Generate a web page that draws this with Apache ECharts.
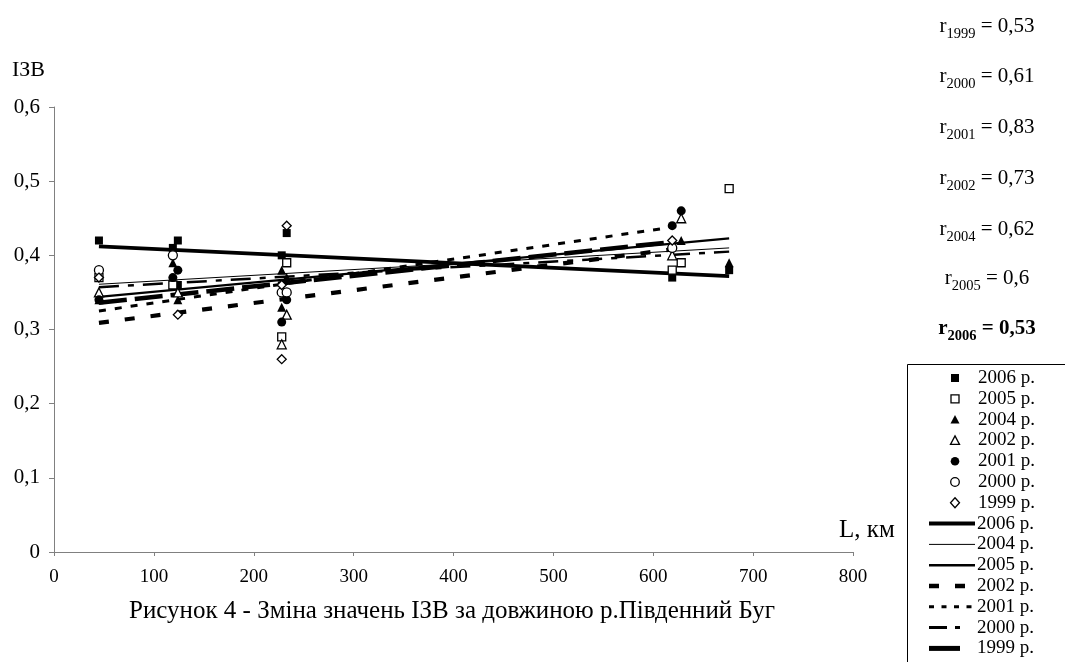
<!DOCTYPE html>
<html><head><meta charset="utf-8">
<script src="https://cdn.jsdelivr.net/npm/echarts@6/dist/echarts.min.js"></script>
<style>html,body{margin:0;padding:0;background:#fff}#c{width:1065px;height:662px}</style>
</head><body><div id="c"></div>
<script>
// ---- data ----
const pts2006 = [[45,0.42],[119,0.41],[124,0.42],[124,0.36],[228,0.40],[233,0.43],[619,0.37],[676,0.38]];
const pts2005 = [[45,0.37],[119,0.36],[228,0.29],[233,0.39],[619,0.38],[628,0.39],[676,0.49]];
const pts2004 = [[45,0.34],[119,0.39],[124,0.34],[228,0.38],[233,0.37],[228,0.33],[628,0.42],[676,0.39]];
const pts2002 = [[45,0.35],[124,0.35],[228,0.28],[233,0.32],[619,0.40],[628,0.45]];
const pts2001 = [[45,0.34],[119,0.37],[124,0.38],[228,0.31],[233,0.34],[619,0.44],[628,0.46]];
const pts2000 = [[45,0.38],[119,0.40],[228,0.35],[233,0.35],[619,0.41]];
const pts1999 = [[45,0.37],[124,0.32],[228,0.26],[228,0.36],[233,0.44],[619,0.42]];
// trend lines (endpoints)
const trend2006 = [[45,0.412],[676,0.372]];
const trend2004 = [[45,0.361],[676,0.410]];
const trend2005 = [[45,0.344],[676,0.423]];
const trend2002 = [[45,0.309],[619,0.408]];
const trend2001 = [[45,0.325],[619,0.438]];
const trend2000 = [[45,0.357],[676,0.405]];
const trend1999 = [[45,0.336],[619,0.418]];
const rYears = ['1999','2000','2001','2002','2004','2005','2006'];
const rValues = ['0,53','0,61','0,83','0,73','0,62','0,6','0,53'];
const yTickLabels = ['0','0,1','0,2','0,3','0,4','0,5','0,6'];
const xTickLabels = ['0','100','200','300','400','500','600','700','800'];
const pointLegend = ['2006 р.','2005 р.','2004 р.','2002 р.','2001 р.','2000 р.','1999 р.'];
const lineLegend = ['2006 р.','2004 р.','2005 р.','2002 р.','2001 р.','2000 р.','1999 р.'];
const caption = 'Рисунок 4 - Зміна значень ІЗВ за довжиною р.Південний Буг';

const FONT = '"Liberation Serif", "DejaVu Serif", serif';
const chart = echarts.init(document.getElementById('c'));

// marker styles: [symbol, filled]
const markerStyles = [['rect', true], ['rect', false], ['triangle', true], ['triangle', false],
  ['circle', true], ['circle', false], ['diamond', false]];
const lineStyles = [
  { width: 3.8, type: 'solid' },
  { width: 1, type: 'solid' },
  { width: 2.3, type: 'solid' },
  { width: 4.2, type: [10, 16] },
  { width: 3, type: [7, 9] },
  { width: 2.5, type: [20, 9, 6, 9] },
  { width: 4.5, type: [28, 8] }
];
const legendLineStyles = [
  { width: 4, dash: null },
  { width: 1, dash: null },
  { width: 2.5, dash: null },
  { width: 4.5, dash: [10, 16] },
  { width: 3, dash: [5, 7.5] },
  { width: 3, dash: [18, 8, 5, 100] },
  { width: 5, dash: [31, 100] }
];
const pointData = [pts2006, pts2005, pts2004, pts2002, pts2001, pts2000, pts1999];
const trendData = [trend2006, trend2004, trend2005, trend2002, trend2001, trend2000, trend1999];

const series = [];
pointData.forEach(function (d, i) {
  const filled = markerStyles[i][1];
  series.push({
    type: 'scatter', name: pointLegend[i], data: d, symbol: markerStyles[i][0],
    symbolSize: markerStyles[i][0] === 'rect' ? 8 : 9, z: 5,
    itemStyle: { opacity: 1, color: filled ? '#000' : '#fff', borderColor: '#000', borderWidth: filled ? 0 : 1.3 }
  });
});
trendData.forEach(function (d, i) {
  series.push({
    type: 'line', name: lineLegend[i] + ' ', data: d, symbol: 'none', z: 3, silent: true,
    lineStyle: { color: '#000', width: lineStyles[i].width, type: lineStyles[i].type, cap: 'butt' }
  });
});

const graphics = [
  { type: 'rect', left: 905, top: 362, shape: { width: 200, height: 320 },
    style: { fill: 'none', stroke: '#000', lineWidth: 1 }, z: 0 },
  { type: 'text', left: 12, top: 59, style: { text: 'ІЗВ', font: '22px ' + FONT, fill: '#000' } },
  { type: 'text', left: 839, top: 518, style: { text: 'L, км', font: '25px ' + FONT, fill: '#000' } },
  { type: 'text', x: 452, y: 611, style: { text: caption, font: '25px ' + FONT, fill: '#000', align: 'center', verticalAlign: 'middle' } }
];
const rTops = [12, 62, 113, 164, 215, 264, 314];
rYears.forEach(function (yr, i) {
  const bold = (yr === '2006');
  graphics.push({
    type: 'text', x: 987, y: rTops[i],
    style: {
      text: '{r|r}{s|' + yr + '}{r| = ' + rValues[i] + '}',
      align: 'center', fill: '#000',
      rich: {
        r: { fontFamily: FONT, fontSize: 21, fontWeight: bold ? 'bold' : 'normal', verticalAlign: 'bottom', lineHeight: 25 },
        s: { fontFamily: FONT, fontSize: 14.5, fontWeight: bold ? 'bold' : 'normal', verticalAlign: 'bottom', padding: [0,0,-5,0], lineHeight: 25 }
      }
    }
  });
});

// ---- legend (drawn manually, Excel style) ----
const LEG_Y0 = 378, LEG_STEP = 20.8, MK_X = 955, TXT_X = 978;
function markerGraphic(kind, filled, cx, cy) {
  const st = { fill: filled ? '#000' : '#fff', stroke: '#000', lineWidth: filled ? 0 : 1.3 };
  if (kind === 'rect') return { type: 'rect', shape: { x: cx - 4, y: cy - 4, width: 8, height: 8 }, style: st };
  if (kind === 'circle') return { type: 'circle', shape: { cx: cx, cy: cy, r: 4.3 }, style: st };
  if (kind === 'triangle') return { type: 'polygon', shape: { points: [[cx, cy - 4.5], [cx + 4.5, cy + 4], [cx - 4.5, cy + 4]] }, style: st };
  return { type: 'polygon', shape: { points: [[cx, cy - 5], [cx + 4.5, cy], [cx, cy + 5], [cx - 4.5, cy]] }, style: st };
}
pointLegend.forEach(function (name, i) {
  const cy = LEG_Y0 + i * LEG_STEP;
  graphics.push(markerGraphic(markerStyles[i][0], markerStyles[i][1], MK_X, cy));
  graphics.push({ type: 'text', x: TXT_X, y: cy, style: { text: name, font: '19px ' + FONT, fill: '#000', verticalAlign: 'middle' } });
});
lineLegend.forEach(function (name, i) {
  const cy = LEG_Y0 + (i + 7) * LEG_STEP;
  const ls = legendLineStyles[i];
  graphics.push({ type: 'line', shape: { x1: 929, y1: cy, x2: 975, y2: cy },
    style: { stroke: '#000', lineWidth: ls.width, lineDash: ls.dash, lineCap: 'butt' } });
  graphics.push({ type: 'text', x: TXT_X - 1, y: cy, style: { text: name, font: '19px ' + FONT, fill: '#000', verticalAlign: 'middle' } });
});

chart.setOption({
  animation: false,
  backgroundColor: '#fff',
  grid: { left: 54, right: 212, top: 107, bottom: 110 },
  xAxis: {
    type: 'value', min: 0, max: 800, interval: 100,
    axisLine: { lineStyle: { color: '#808080', width: 1 } },
    axisTick: { show: true, length: 4, lineStyle: { color: '#808080' } },
    splitLine: { show: false },
    axisLabel: { color: '#000', fontFamily: FONT, fontSize: 19, margin: 16,
      formatter: function (v) { return xTickLabels[Math.round(v / 100)]; } }
  },
  yAxis: {
    type: 'value', min: 0, max: 0.6, interval: 0.1,
    axisLine: { show: true, lineStyle: { color: '#808080', width: 1 } },
    axisTick: { show: true, length: 5, lineStyle: { color: '#808080' } },
    splitLine: { show: false },
    axisLabel: { color: '#000', fontFamily: FONT, fontSize: 21, margin: 14,
      formatter: function (v) { return yTickLabels[Math.round(v * 10)]; } }
  },
  graphic: graphics,
  series: series
});
</script></body></html>
